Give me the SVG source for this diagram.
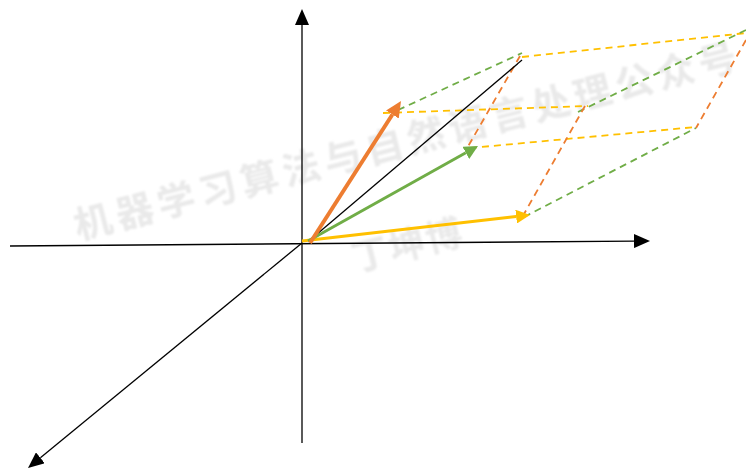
<svg xmlns="http://www.w3.org/2000/svg" width="746" height="470" viewBox="0 0 746 470">
<style>
.wm{font-family:"Noto Sans CJK SC","Noto Sans",sans-serif;fill:#e9e9e9;font-weight:bold}
.ax{stroke:#000;stroke-width:1.3;fill:none}
.d{fill:none;stroke-width:1.8;stroke-dasharray:7 5}
.o{stroke:#ED7D31}.g{stroke:#70AD47}.y{stroke:#FFC000}
</style>
<defs>
<filter id="blur" x="-5%" y="-20%" width="110%" height="140%"><feGaussianBlur stdDeviation="1.2"/></filter>
<marker id="mk" markerUnits="userSpaceOnUse" markerWidth="16" markerHeight="14" viewBox="0 0 16 14" refX="0" refY="7" orient="auto"><path d="M0,0 L16,7 L0,14 z" fill="#000"/></marker>
<marker id="mo" markerUnits="userSpaceOnUse" markerWidth="16" markerHeight="15" viewBox="0 0 16 15" refX="0" refY="7.5" orient="auto"><path d="M0,0 L16,7.5 L0,15 z" fill="#ED7D31"/></marker>
<marker id="mg" markerUnits="userSpaceOnUse" markerWidth="14" markerHeight="14" viewBox="0 0 14 14" refX="0" refY="7" orient="auto"><path d="M0,0 L14,7 L0,14 z" fill="#70AD47"/></marker>
<marker id="my" markerUnits="userSpaceOnUse" markerWidth="14" markerHeight="14" viewBox="0 0 14 14" refX="0" refY="7" orient="auto"><path d="M0,0 L14,7 L0,14 z" fill="#FFC000"/></marker>
</defs>
<rect width="746" height="470" fill="#fff"/>
<g id="watermark" filter="url(#blur)">
<text class="wm" font-size="38" letter-spacing="5" transform="translate(78,240) rotate(-14.5)">机器学习算法与自然语言处理公众号</text>
<text class="wm" font-size="36" letter-spacing="2" transform="translate(356,272) rotate(-14.5)">丁坤博</text>
</g>
<g id="axes">
<line class="ax" x1="302" y1="443" x2="302" y2="25" marker-end="url(#mk)"/>
<line class="ax" x1="10" y1="246" x2="634" y2="241.1" marker-end="url(#mk)"/>
<line class="ax" x1="302" y1="243" x2="40.4" y2="457.8" marker-end="url(#mk)"/>
</g>
<g id="connectors">
<line class="d g" x1="398" y1="110" x2="522" y2="53"/>
<line class="d y" x1="383" y1="113" x2="588" y2="106"/>
<line class="d y" x1="522" y1="57" x2="746" y2="33"/>
<line class="d g" x1="578" y1="112" x2="746" y2="30"/>
<line class="d o" x1="520" y1="56" x2="466" y2="150"/>
<line class="d y" x1="470" y1="148" x2="696" y2="127"/>
<line class="d o" x1="585" y1="106" x2="524" y2="214"/>
<line class="d g" x1="524" y1="217" x2="696" y2="128"/>
<line class="d o" x1="746" y1="40" x2="696" y2="128"/>
<line stroke="#000" stroke-width="1.3" x1="310" y1="240" x2="522" y2="60"/>
</g>
<g id="vectors">
<line stroke="#FFC000" stroke-width="3" x1="302" y1="241" x2="516.1" y2="216.6" marker-end="url(#my)"/>
<line stroke="#70AD47" stroke-width="3" x1="308" y1="241" x2="465.8" y2="152.8" marker-end="url(#mg)"/>
<line stroke="#ED7D31" stroke-width="4" x1="310" y1="243" x2="392.4" y2="114.5" marker-end="url(#mo)"/>
</g>
</svg>
